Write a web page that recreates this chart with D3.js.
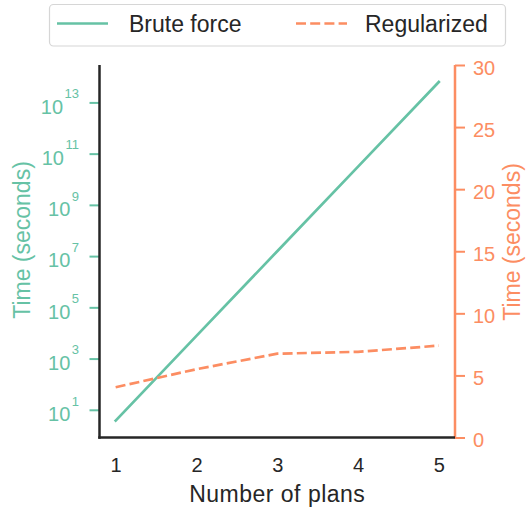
<!DOCTYPE html>
<html>
<head>
<meta charset="utf-8">
<script src="https://cdn.jsdelivr.net/npm/d3@7/dist/d3.min.js"></script>
<style>
  html, body { margin: 0; padding: 0; background: #fff; }
  svg { display: block; font-family: "Liberation Sans", Arimo, Arial, sans-serif; }
</style>
</head>
<body>
<svg id="chart" width="526" height="512"></svg>
<script>
// Run time versus number of plans
const plans = [1, 2, 3, 4, 5];
const bruteForce = [3.8, 7.7e3, 1.55e7, 3.1e10, 6.3e13];   // seconds, log axis
const regularized = [4.05, 5.5, 6.75, 6.9, 7.4];            // seconds, linear axis
const leftTickValues = [1e1, 1e3, 1e5, 1e7, 1e9, 1e11, 1e13];
const rightTickValues = [0, 5, 10, 15, 20, 25, 30];
const seriesNames = ["Brute force", "Regularized"];

const GREEN = "#66c2a5", ORANGE = "#fc8d62", INK = "#262626";
const svg = d3.select("#chart");
const plotLeft = 99.5, plotRight = 455, plotTop = 65, plotBottom = 437.5;

// x: 5% padding on each side of the data range
const xPad = (d3.max(plans) - d3.min(plans)) * 0.05;
const x = d3.scaleLinear()
  .domain([d3.min(plans) - xPad, d3.max(plans) + xPad])
  .range([plotLeft, plotRight]);

// left y: log scale with 5% padding in decades
const lmin = Math.log10(d3.min(bruteForce)), lmax = Math.log10(d3.max(bruteForce));
const lpad = (lmax - lmin) * 0.05;
const yL = d3.scaleLog()
  .domain([Math.pow(10, lmin - lpad), Math.pow(10, lmax + lpad)])
  .range([plotBottom, plotTop]);

const yR = d3.scaleLinear().domain([0, 30]).range([plotBottom, plotTop]);

// ---- left axis ----
const gL = svg.append("g").attr("transform", `translate(${plotLeft},0)`);
gL.call(d3.axisLeft(yL).tickValues(leftTickValues).tickSize(10).tickFormat(""));
gL.select(".domain").remove();
gL.selectAll(".tick line").attr("stroke", GREEN).attr("stroke-width", 2);
gL.selectAll(".tick").each(function (d) {
  const t = d3.select(this).append("text")
    .attr("x", -20.5).attr("y", 0)
    .attr("fill", GREEN).attr("text-anchor", "end")
    .style("font-size", "20px");
  t.append("tspan").attr("dy", "10.7").text("10");
  t.append("tspan").attr("dy", "-15.5").attr("dx", "1.5")
    .style("font-size", "13px").text(String(Math.round(Math.log10(d))));
});

// ---- right axis ----
const gR = svg.append("g").attr("transform", `translate(${plotRight},0)`);
gR.call(d3.axisRight(yR).tickValues(rightTickValues).tickSize(10).tickPadding(8));
gR.select(".domain").remove();
gR.selectAll(".tick line").attr("stroke", ORANGE).attr("stroke-width", 2);
gR.selectAll(".tick text").attr("fill", ORANGE).attr("dy", "0.45em")
  .style("font-size", "20px");
svg.append("line").attr("x1", plotRight).attr("x2", plotRight)
  .attr("y1", plotTop).attr("y2", plotBottom + 1)
  .attr("stroke", ORANGE).attr("stroke-width", 2.5);

// ---- bottom axis (labels only) ----
const gX = svg.append("g").attr("transform", `translate(0,${plotBottom})`);
gX.call(d3.axisBottom(x).tickValues(plans).tickSize(0).tickPadding(0).tickFormat(d3.format("d")));
gX.select(".domain").remove();
gX.selectAll(".tick text").attr("fill", INK).attr("y", 34.2).attr("dy", 0)
  .style("font-size", "20px");

// spines
svg.append("line").attr("x1", plotLeft).attr("x2", plotLeft).attr("y1", plotTop).attr("y2", plotBottom + 1.25)
  .attr("stroke", INK).attr("stroke-width", 2.5);
svg.append("line").attr("x1", plotLeft - 1.25).attr("x2", plotRight).attr("y1", plotBottom).attr("y2", plotBottom)
  .attr("stroke", INK).attr("stroke-width", 2.5);

// axis titles
svg.append("text").attr("x", (plotLeft + plotRight) / 2).attr("y", 501.5)
  .attr("text-anchor", "middle").attr("fill", INK)
  .style("font-size", "23px").style("letter-spacing", "0.5px")
  .text("Number of plans");
svg.append("text").attr("transform", `translate(29.5,240) rotate(-90)`)
  .attr("text-anchor", "middle").attr("fill", GREEN)
  .style("font-size", "23px")
  .text("Time (seconds)");
svg.append("text").attr("transform", `translate(520,242) rotate(-90)`)
  .attr("text-anchor", "middle").attr("fill", ORANGE)
  .style("font-size", "23px")
  .text("Time (seconds)");

// ---- series ----
const lineL = d3.line().x((d, i) => x(plans[i])).y(d => yL(d));
const lineR = d3.line().x((d, i) => x(plans[i])).y(d => yR(d));
svg.append("path").datum(bruteForce).attr("d", lineL)
  .attr("fill", "none").attr("stroke", GREEN).attr("stroke-width", 2.7)
  .attr("stroke-linecap", "square");
svg.append("path").datum(regularized).attr("d", lineR)
  .attr("fill", "none").attr("stroke", ORANGE).attr("stroke-width", 2.7)
  .attr("stroke-dasharray", "10 4.2");

// ---- legend ----
const lg = svg.append("g");
lg.append("rect").attr("x", 49.5).attr("y", 4.5).attr("width", 456).attr("height", 41.5)
  .attr("rx", 4).attr("fill", "#fff").attr("fill-opacity", 0.8)
  .attr("stroke", "#d6d6d6").attr("stroke-width", 1.2);
const items = [
  { name: seriesNames[0], color: GREEN, dash: null, x0: 57, tx: 129 },
  { name: seriesNames[1], color: ORANGE, dash: "10 4.2", x0: 296, tx: 365 }
];
items.forEach(it => {
  lg.append("line").attr("x1", it.x0).attr("x2", it.x0 + 51).attr("y1", 23.5).attr("y2", 23.5)
    .attr("stroke", it.color).attr("stroke-width", 2.7)
    .attr("stroke-dasharray", it.dash);
  lg.append("text").attr("x", it.tx).attr("y", 31.5).attr("fill", INK)
    .style("font-size", "23px")
    .text(it.name);
});
</script>
</body>
</html>
